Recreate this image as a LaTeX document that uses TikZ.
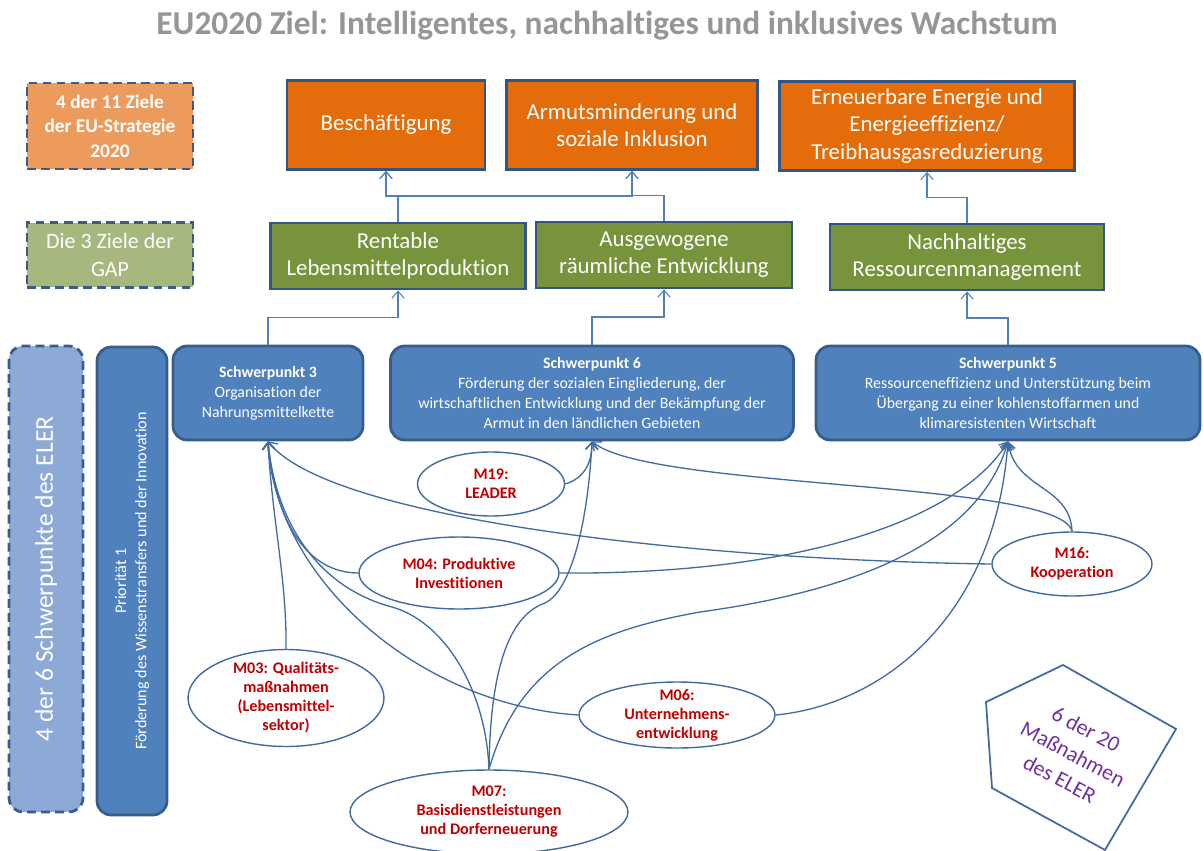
\documentclass[tikz,border=0pt]{standalone}
\usepackage{fontspec}
\setmainfont{Carlito}[Ligatures=NoCommon]
\usepackage{tikz}
\usetikzlibrary{shapes.geometric, arrows.meta, calc}
\definecolor{GoalOrange}{RGB}{228,108,10}
\definecolor{GapGreen}{RGB}{119,147,60}
\definecolor{BoxNavy}{RGB}{52,84,130}
\definecolor{EleBlue}{RGB}{79,129,189}
\definecolor{EleLine}{RGB}{56,93,138}
\definecolor{TagOrange}{RGB}{236,155,93}
\definecolor{TagGreen}{RGB}{166,184,125}
\definecolor{TagBlue}{RGB}{141,170,214}
\definecolor{LinkBlue}{RGB}{64,107,160}
\definecolor{ElbowBlue}{RGB}{79,129,189}
\definecolor{MeasRed}{RGB}{192,0,0}
\definecolor{PentaPurple}{RGB}{112,48,160}
\definecolor{TitleGray}{RGB}{150,150,150}

\begin{document}
\begin{tikzpicture}[x=0.02cm, y=-0.02cm,
    goal/.style={rectangle, draw=BoxNavy, line width=1.6pt, fill=GoalOrange,
                 text=white, align=center, inner sep=0pt,
                 font=\fontsize{13}{15.5}\selectfont},
    gap/.style={goal, fill=GapGreen},
    focus/.style={rectangle, rounded corners=8pt, draw=EleLine, line width=1.6pt,
                  fill=EleBlue, text=white, align=center, inner sep=0pt,
                  font=\fontsize{9}{11.3}\selectfont},
    tagbox/.style={rectangle, dashed, dash pattern=on 5pt off 3pt, draw=EleLine,
                   line width=1.6pt, text=white, align=center, inner sep=0pt},
    meas/.style={ellipse, draw=LinkBlue, line width=0.8pt, fill=white, inner sep=0pt},
    meastext/.style={text=MeasRed, align=center,
                     font=\bfseries\fontsize{9.2}{10.8}\selectfont},
    link/.style={LinkBlue, line width=0.75pt, -{Straight Barb[length=4pt,width=7pt]}},
    elbow/.style={ElbowBlue, line width=0.6pt, -{Straight Barb[length=4pt,width=7pt]}}
  ]
  \useasboundingbox (0,0) rectangle (1203,851);

  % Titel
  \node[font=\bfseries\fontsize{19}{22}\selectfont, text=TitleGray] (title) at (607,26)
        {EU2020 Ziel: Intelligentes, nachhaltiges und inklusives Wachstum};

  % Ebenen links
  \node[tagbox, fill=TagOrange, minimum width=3.32cm, minimum height=1.72cm,
        font=\bfseries\fontsize{11}{13.9}\selectfont] (tagEU) at (110,126)
        {4 der 11 Ziele\\der EU-Strategie\\2020};
  \node[tagbox, fill=TagGreen, minimum width=3.32cm, minimum height=1.30cm,
        font=\fontsize{12.5}{15.5}\selectfont] (tagGAP) at (110,255)
        {Die 3 Ziele der\\GAP};
  \node[tagbox, fill=TagBlue, rounded corners=8pt, rotate=90,
        minimum width=9.32cm, minimum height=1.48cm,
        font=\fontsize{14.6}{17}\selectfont] (tagELER) at (46,579)
        {4 der 6 Schwerpunkte des ELER};
  \node[focus, rotate=90, minimum width=9.36cm, minimum height=1.40cm,
        font=\fontsize{9.2}{11.5}\selectfont] (prio1) at (132,581)
        {Priorität 1\\Förderung des Wissenstransfers und der Innovation};

  % EU-Ziele
  \node[goal, minimum width=3.96cm, minimum height=1.78cm] (besch) at (386,125)
        {Beschäftigung};
  \node[goal, minimum width=5.02cm, minimum height=1.78cm] (armut) at (632,125)
        {Armutsminderung und\\soziale Inklusion};
  \node[goal, minimum width=5.90cm, minimum height=1.78cm] (erneu) at (927,126)
        {Erneuerbare Energie und\\Energieeffizienz/\\Treibhausgasreduzierung};

  % GAP-Ziele
  \node[gap, minimum width=5.10cm, minimum height=1.32cm] (rent) at (398,256)
        {Rentable\\Lebensmittelproduktion};
  \node[gap, minimum width=5.12cm, minimum height=1.32cm] (ausg) at (664,255)
        {Ausgewogene\\räumliche Entwicklung};
  \node[gap, minimum width=5.48cm, minimum height=1.32cm] (nachh) at (967,257)
        {Nachhaltiges\\Ressourcenmanagement};

  % Schwerpunkte
  \node[focus, minimum width=3.80cm, minimum height=1.88cm] (sp3) at (268,393)
        {\textbf{Schwerpunkt 3}\\Organisation der\\Nahrungsmittelkette};
  \node[focus, minimum width=8.06cm, minimum height=1.88cm] (sp6) at (592,393)
        {\textbf{Schwerpunkt 6}\\Förderung der sozialen Eingliederung, der\\
         wirtschaftlichen Entwicklung und der Bekämpfung der\\
         Armut in den ländlichen Gebieten};
  \node[focus, minimum width=7.68cm, minimum height=1.88cm] (sp5) at (1008,393)
        {\textbf{Schwerpunkt 5}\\Ressourceneffizienz und Unterstützung beim\\
         Übergang zu einer kohlenstoffarmen und\\klimaresistenten Wirtschaft};

  % Verbindungen GAP -> EU
  \draw[elbow] (rent.north) |- ($(rent.north)!.5!(besch.south)$) -| (besch.south);
  \draw[elbow] (rent.north) |- ($(rent.north)!.5!(armut.south)$) -| (armut.south);
  \draw[elbow] (ausg.north) |- ($(ausg.north)!.5!(besch.south)$) -| (besch.south);
  \draw[elbow] (ausg.north) |- ($(ausg.north)!.5!(armut.south)$) -| (armut.south);
  \draw[elbow] (nachh.north) |- ($(nachh.north)!.5!(erneu.south)$) -| (erneu.south);

  % Verbindungen Schwerpunkte -> GAP
  \draw[elbow] (sp3.north) |- ($(sp3.north)!.5!(rent.south)$) -| (rent.south);
  \draw[elbow] (sp6.north) |- ($(sp6.north)!.5!(ausg.south)$) -| (ausg.south);
  \draw[elbow] (sp5.north) |- ($(sp5.north)!.5!(nachh.south)$) -| (nachh.south);

  % Massnahmen
  \node[meas, minimum width=2.94cm, minimum height=1.28cm,
        label={[meastext]center:M19:\\LEADER}] (m19) at (491,484) {};
  \node[meas, minimum width=4.00cm, minimum height=1.44cm,
        label={[meastext]center:M04: Produktive\\Investitionen}] (m04) at (459,573) {};
  \node[meas, minimum width=3.20cm, minimum height=1.28cm,
        label={[meastext]center:M16:\\Kooperation}] (m16) at (1072,564) {};
  \node[meas, minimum width=3.92cm, minimum height=1.94cm,
        label={[meastext]center:M03: Qualitäts-\\maßnahmen\\(Lebensmittel-\\sektor)}] (m03) at (286,698) {};
  \node[meas, minimum width=3.92cm, minimum height=1.32cm,
        label={[meastext]center:M06:\\Unternehmens-\\entwicklung}] (m06) at (677,715) {};
  \node[meas, minimum width=5.56cm, minimum height=1.68cm,
        label={[meastext]center:M07:\\Basisdienstleistungen\\und Dorferneuerung}] (m07) at (489,812) {};

  % Massnahmen -> Schwerpunkt 3
  \draw[link] (m03.north) .. controls (287,580) and (272,520) .. (sp3.south);
  \draw[link] (m04.west) .. controls (312,573) and (276,530) .. (sp3.south);
  \draw[link] (m06.west) .. controls (420,705) and (275,580) .. (sp3.south);
  \draw[link] (m07.north) .. controls (486,690) and (445,622) .. (392,607)
        .. controls (320,588) and (276,525) .. (sp3.south);
  \draw[link] (m16.west) .. controls (700,560) and (330,520) .. (sp3.south);

  % Massnahmen -> Schwerpunkt 6
  \draw[link] (m19.east) .. controls (585,478) and (592,462) .. (sp6.south);
  \draw[link] (m07.north) .. controls (490,680) and (505,617) .. (545,603)
        .. controls (572,590) and (588,520) .. (sp6.south);
  \draw[link] (m16.north) .. controls (1060,480) and (650,490) .. (sp6.south);

  % Massnahmen -> Schwerpunkt 5
  \draw[link] (m04.east) .. controls (800,575) and (960,520) .. (sp5.south);
  \draw[link] (m07.north) .. controls (520,660) and (600,630) .. (700,612)
        .. controls (860,590) and (980,540) .. (sp5.south);
  \draw[link] (m06.east) .. controls (880,705) and (995,620) .. (sp5.south);
  \draw[link] (m16.north) .. controls (1070,485) and (1015,490) .. (sp5.south);

  % Fuenfeck
  \draw[LinkBlue, line width=1pt] (1063,665) -- (1176,729) -- (1105,850)
        -- (992,788) -- (986,702) -- cycle;
  \node[rotate=-28, text=PentaPurple, align=center,
        font=\fontsize{12.5}{16}\selectfont] (eler) at (1073,754)
        {6 der 20\\Maßnahmen\\des ELER};
\end{tikzpicture}
\end{document}
